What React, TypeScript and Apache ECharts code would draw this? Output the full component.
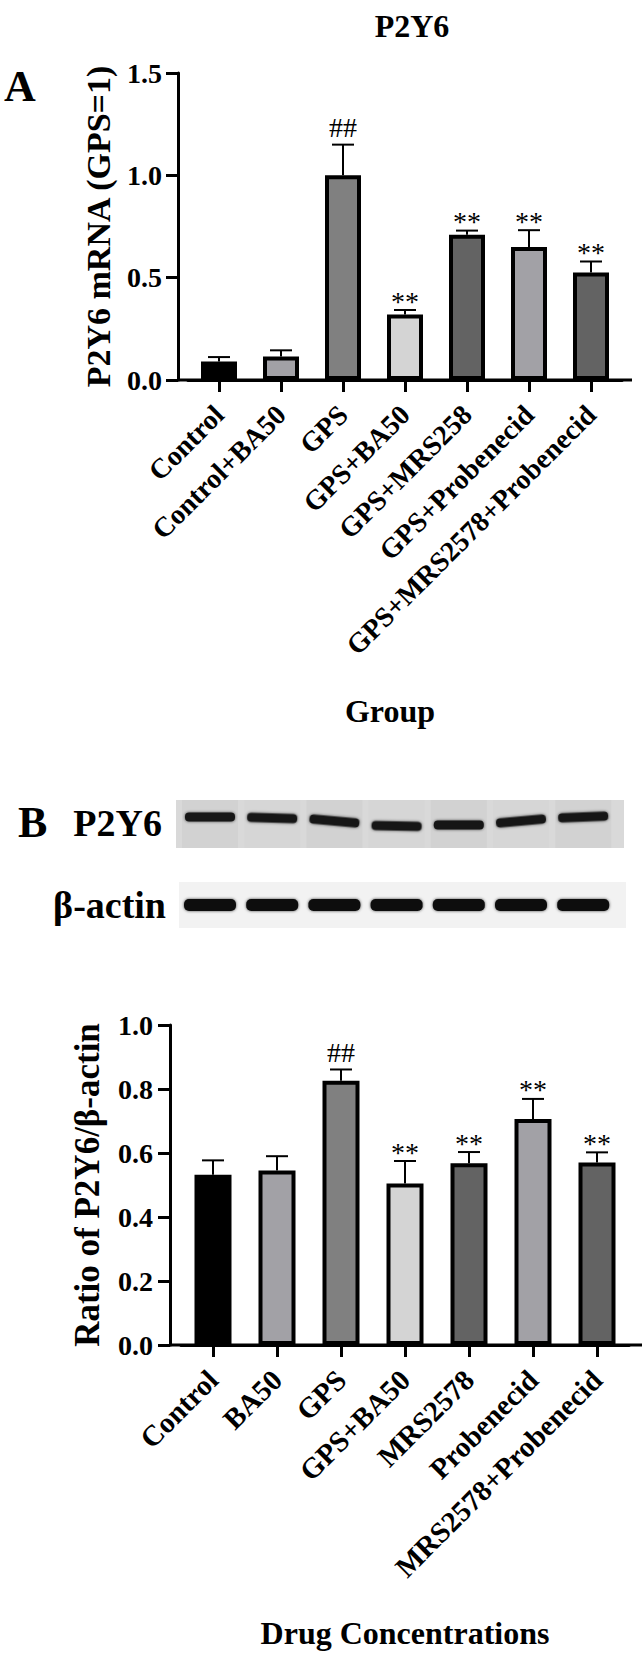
import React, { useEffect, useRef } from 'react';
import * as echarts from 'echarts';

// ---------- data ----------
const groupsA = ['Control', 'Control+BA50', 'GPS', 'GPS+BA50', 'GPS+MRS258', 'GPS+Probenecid', 'GPS+MRS2578+Probenecid'];
const meanA = [0.09, 0.115, 1.0, 0.32, 0.71, 0.65, 0.525];
const errA = [0.022, 0.03, 0.15, 0.022, 0.02, 0.082, 0.054];
const sigA = ['', '', '##', '**', '**', '**', '**'];

const groupsB = ['Control', 'BA50', 'GPS', 'GPS+BA50', 'MRS2578', 'Probenecid', 'MRS2578+Probenecid'];
const meanB = [0.532, 0.545, 0.826, 0.505, 0.568, 0.706, 0.57];
const errB = [0.045, 0.045, 0.035, 0.07, 0.035, 0.063, 0.032];
const sigB = ['', '', '##', '**', '**', '**', '**'];

const barColors = ['#000000', '#a2a1a6', '#808080', '#d4d4d4', '#636363', '#a2a1a6', '#636363'];

// western blot appearance (decorative image)
const p2y6BandDy = [0, 1, 4, 9, 8, 4, 0];
const p2y6BandRot = [0, -0.03, -0.09, -0.02, 0, 0.09, 0.04];
const actinBandDy = [0, 0, 0, 0, 0, 0, 0];

const FONT = '"Liberation Serif", "Times New Roman", serif';

// ---------- layout ----------
const A = { left: 188, width: 434, top: 73, height: 307, axisX: 178, axisEnd: 632 };
const B = { left: 181, width: 448, top: 1025, height: 320, axisX: 170, axisEnd: 642 };

function errSeries(idx: number, means: number[], errs: number[], sigs: string[]) {
  return {
    type: 'custom',
    xAxisIndex: idx,
    yAxisIndex: idx,
    z: 1,
    data: means.map((m, i) => [i, m, errs[i]]),
    renderItem: (params: any, api: any) => {
      const i = params.dataIndex;
      const x = api.value(0);
      const m = api.value(1);
      const e = api.value(2);
      const p0 = api.coord([x, m]);
      const p1 = api.coord([x, m + e]);
      const children: any[] = [
        { type: 'line', shape: { x1: p0[0], y1: p0[1], x2: p1[0], y2: p1[1] }, style: { stroke: '#000', lineWidth: 2 } },
        { type: 'line', shape: { x1: p1[0] - 11, y1: p1[1], x2: p1[0] + 11, y2: p1[1] }, style: { stroke: '#000', lineWidth: 2 } },
      ];
      const s = sigs[i];
      if (s) {
        children.push({
          type: 'text',
          x: p1[0],
          y: p1[1] + (s === '##' ? -3 : 5),
          style: { text: s, fill: '#000', fontSize: 28, fontFamily: FONT, align: 'center', verticalAlign: 'bottom' },
        });
      }
      return { type: 'group', children };
    },
  };
}

function yAxisCfg(idx: number, min: number, max: number, interval: number, name: string, offset: number, nameGap: number, nameSize: number, margin: number) {
  return {
    type: 'value',
    gridIndex: idx,
    min,
    max,
    interval,
    offset,
    name,
    nameLocation: 'middle',
    nameGap,
    nameTextStyle: { fontSize: nameSize, fontWeight: 'bold', fontFamily: FONT, color: '#000' },
    axisLine: { show: true, lineStyle: { color: '#000', width: 3 } },
    axisTick: { show: true, length: 12, lineStyle: { color: '#000', width: 3 } },
    axisLabel: { fontSize: 28, fontWeight: 'bold', fontFamily: FONT, color: '#000', margin, formatter: (v: number) => v.toFixed(1) },
    splitLine: { show: false },
  };
}

function xAxisCfg(idx: number, data: string[], name: string, nameGap: number, labelSize: number, namePadRight: number) {
  return {
    type: 'category',
    gridIndex: idx,
    data,
    name,
    nameLocation: 'middle',
    nameGap,
    nameTextStyle: { fontSize: 32, fontWeight: 'bold', fontFamily: FONT, color: '#000', padding: [0, namePadRight, 0, 0] },
    axisLine: { show: true, lineStyle: { color: '#000', width: 3 } },
    axisTick: { show: true, alignWithLabel: true, length: 12, lineStyle: { color: '#000', width: 3 } },
    axisLabel: { rotate: 45, interval: 0, fontSize: labelSize, fontWeight: 'bold', fontFamily: FONT, color: '#000', margin: 30 },
    splitLine: { show: false },
  };
}

function barSeries(idx: number, means: number[], width: number) {
  return {
    type: 'bar',
    xAxisIndex: idx,
    yAxisIndex: idx,
    z: 2,
    barWidth: width,
    data: means,
    itemStyle: {
      color: (p: any) => barColors[p.dataIndex],
      borderColor: '#000',
      borderWidth: 4,
    },
  };
}

function blotGraphics() {
  const els: any[] = [];
  const laneCx = (i: number) => 210 + 62.2 * i;
  // P2Y6 membrane
  els.push({ type: 'rect', shape: { x: 176, y: 800, width: 448, height: 48 }, style: { fill: '#d9d9d9' } });
  for (let i = 0; i < 7; i++) {
    els.push({ type: 'rect', shape: { x: laneCx(i) - 28, y: 800, width: 56, height: 48 }, style: { fill: i % 2 === 0 ? '#d2d2d2' : '#d6d6d6' } });
  }
  for (let i = 0; i < 7; i++) {
    els.push({
      type: 'rect',
      x: laneCx(i),
      y: 817 + p2y6BandDy[i],
      rotation: p2y6BandRot[i],
      shape: { x: -25, y: -4.5, width: 50, height: 9, r: 4 },
      style: { fill: '#161616', shadowBlur: 3, shadowColor: 'rgba(0,0,0,0.7)' },
    });
  }
  // beta-actin membrane
  els.push({ type: 'rect', shape: { x: 179, y: 882, width: 447, height: 46 }, style: { fill: '#f2f2f2' } });
  for (let i = 0; i < 7; i++) {
    els.push({
      type: 'rect',
      x: laneCx(i),
      y: 905 + actinBandDy[i],
      shape: { x: -26, y: -6, width: 52, height: 12, r: 5 },
      style: { fill: '#0d0d0d', shadowBlur: 3, shadowColor: 'rgba(0,0,0,0.7)' },
    });
  }
  return els;
}

export default function App() {
  const ref = useRef<HTMLDivElement>(null);
  useEffect(() => {
    if (!ref.current) return;
    const chart = echarts.init(ref.current, undefined, { renderer: 'svg' });
    const textStyle = (size: number) => ({ fontSize: size, fontWeight: 'bold', fontFamily: FONT, fill: '#000' });
    chart.setOption({
      animation: false,
      backgroundColor: '#fff',
      title: {
        text: 'P2Y6',
        left: 407,
        top: 5,
        textAlign: 'center',
        textStyle: { fontSize: 32, fontWeight: 'bold', fontFamily: FONT, color: '#000' },
      },
      grid: [
        { left: A.left, width: A.width, top: A.top, height: A.height, containLabel: false },
        { left: B.left, width: B.width, top: B.top, height: B.height, containLabel: false },
      ],
      xAxis: [xAxisCfg(0, groupsA, 'Group', 315, 28, 30), xAxisCfg(1, groupsB, 'Drug Concentrations', 272, 29, 0)],
      yAxis: [
        yAxisCfg(0, 0, 1.5, 0.5, 'P2Y6 mRNA (GPS=1)', A.left - A.axisX, 63, 34, 16),
        yAxisCfg(1, 0, 1.0, 0.2, 'Ratio of P2Y6/β-actin', B.left - B.axisX, 65, 35, 17),
      ],
      series: [barSeries(0, meanA, 36), errSeries(0, meanA, errA, sigA), barSeries(1, meanB, 37), errSeries(1, meanB, errB, sigB)],
      graphic: [
        { type: 'line', shape: { x1: A.axisX, y1: A.top + A.height, x2: A.axisEnd, y2: A.top + A.height }, style: { stroke: '#000', lineWidth: 3 } },
        { type: 'line', shape: { x1: B.axisX, y1: B.top + B.height, x2: B.axisEnd, y2: B.top + B.height }, style: { stroke: '#000', lineWidth: 3 } },
        { type: 'text', x: 4, y: 86, style: { text: 'A', ...textStyle(44), align: 'left', verticalAlign: 'middle' } },
        { type: 'text', x: 18, y: 822, style: { text: 'B', ...textStyle(44), align: 'left', verticalAlign: 'middle' } },
        { type: 'text', x: 162, y: 823, style: { text: 'P2Y6', ...textStyle(38), align: 'right', verticalAlign: 'middle' } },
        { type: 'text', x: 166, y: 905, style: { text: 'β-actin', ...textStyle(38), align: 'right', verticalAlign: 'middle' } },
        ...blotGraphics(),
      ],
    });
    return () => chart.dispose();
  }, []);
  return <div ref={ref} style={{ position: 'absolute', left: 0, top: 0, width: 644, height: 1656, background: '#fff' }} />;
}
